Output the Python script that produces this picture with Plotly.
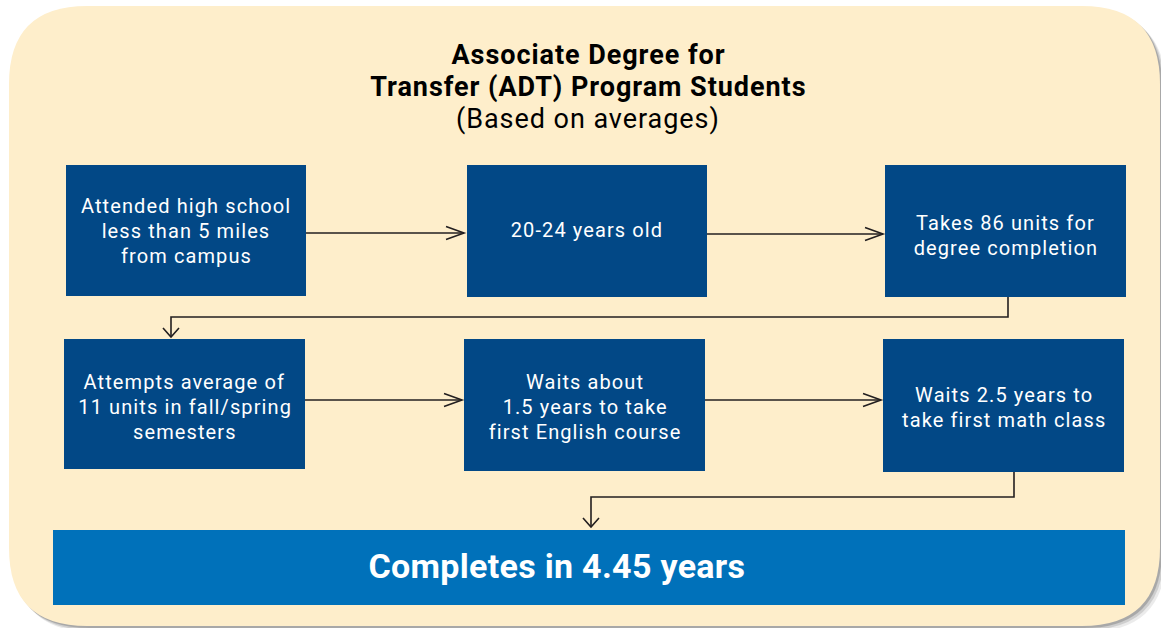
import plotly.graph_objects as go

# ---- content ----
title_lines = ["Associate Degree for", "Transfer (ADT) Program Students"]
subtitle = "(Based on averages)"
row1_labels = [
    ["Attended high school", "less than 5 miles", "from campus"],
    ["20-24 years old"],
    ["Takes 86 units for", "degree completion"],
]
row2_labels = [
    ["Attempts average of", "11 units in fall/spring", "semesters"],
    ["Waits about", "1.5 years to take", "first English course"],
    ["Waits 2.5 years to", "take first math class"],
]
result_label = "Completes in 4.45 years"

# ---- layout geometry (pixels, y downward) ----
W, H = 1161, 628
row1_boxes = [(66, 165, 306, 296), (467, 165, 707, 297), (885, 165, 1126, 297)]
row2_boxes = [(64, 339, 305, 469), (464, 339, 705, 471), (883, 339, 1124, 472)]
row1_text_dy = [0, -1, 4]
row2_text_dy = [3, 2, 2]
result_box = (53, 530, 1125, 605)
result_text_pos = (557, 565.5)

DARK = "#024886"
BRIGHT = "#0071BA"
CREAM = "#FEEECB"
LINE = "#231F20"
FONT = "Roboto"

fig = go.Figure()
shapes = []
annotations = []


def rounded_rect(x0, y0, x1, y1, r):
    return (f"M{x0+r},{y0} L{x1-r},{y0} Q{x1},{y0} {x1},{y0+r} "
            f"L{x1},{y1-r} Q{x1},{y1} {x1-r},{y1} L{x0+r},{y1} "
            f"Q{x0},{y1} {x0},{y1-r} L{x0},{y0+r} Q{x0},{y0} {x0+r},{y0} Z")


# shadow + background panel
for off, alpha in [(6, 0.08), (4, 0.12), (2, 0.18)]:
    shapes.append(dict(type="path", xref="x", yref="y",
                       path=rounded_rect(9 + off, 6 + off, 1160 + off, 626 + off, 78),
                       fillcolor=f"rgba(0,0,0,{alpha})", line=dict(width=0), layer="below"))
shapes.append(dict(type="path", xref="x", yref="y",
                   path=rounded_rect(9, 6, 1160, 626, 78),
                   fillcolor=CREAM, line=dict(width=0), layer="below"))


def box(b, color):
    shapes.append(dict(type="rect", xref="x", yref="y", x0=b[0], y0=b[1], x1=b[2], y1=b[3],
                       fillcolor=color, line=dict(width=0)))


def text_at(x, y, text, size, color, bold=False):
    annotations.append(dict(x=x, y=y, xref="x", yref="y",
                            text=(f"<b>{text}</b>" if bold else text), showarrow=False,
                            font=dict(family=FONT, size=size, color=color),
                            xanchor="center", yanchor="middle", align="center"))


def label(b, lines, dy=0, size=20, spacing=25):
    cx = (b[0] + b[2]) / 2
    cy = (b[1] + b[3]) / 2 + dy
    n = len(lines)
    for i, ln in enumerate(lines):
        text_at(cx, cy + (i - (n - 1) / 2) * spacing, ln, size, "white")


def line(pts):
    path = "M" + " L".join(f"{x},{y}" for x, y in pts)
    shapes.append(dict(type="path", xref="x", yref="y", path=path,
                       line=dict(color=LINE, width=1.6)))


def head_right(x, y):
    line([(x - 18, y - 6.5), (x, y), (x - 18, y + 6.5)])


def head_down(x, y):
    line([(x - 8, y - 9), (x, y), (x + 8, y - 9)])


for b, t, d in zip(row1_boxes, row1_labels, row1_text_dy):
    box(b, DARK)
    label(b, t, d)
for b, t, d in zip(row2_boxes, row2_labels, row2_text_dy):
    box(b, DARK)
    label(b, t, d)
box(result_box, BRIGHT)
text_at(result_text_pos[0], result_text_pos[1], result_label, 34, "white", bold=True)

# row 1 arrows
line([(306, 233), (464, 233)]); head_right(464, 233)
line([(707, 234), (883, 234)]); head_right(883, 234)
# connector row1 -> row2
line([(1008, 297), (1008, 317), (171, 317), (171, 337)]); head_down(171, 337)
# row 2 arrows
line([(305, 400), (462, 400)]); head_right(462, 400)
line([(705, 400), (881, 400)]); head_right(881, 400)
# connector row2 -> result
line([(1014, 472), (1014, 497), (591, 497), (591, 527)]); head_down(591, 527)

# title
text_at(588, 55, title_lines[0], 27, "black", bold=True)
text_at(588, 87, title_lines[1], 27, "black", bold=True)
text_at(588, 119, subtitle, 27, "black")

fig.update_layout(
    width=W, height=H, margin=dict(l=0, r=0, t=0, b=0),
    paper_bgcolor="white", plot_bgcolor="white",
    xaxis=dict(range=[0, W], visible=False, fixedrange=True),
    yaxis=dict(range=[H, 0], visible=False, fixedrange=True),
    shapes=shapes, annotations=annotations, showlegend=False,
)

post = """
document.body.style.margin='0';
document.body.style.padding='0';
document.querySelectorAll('text.annotation-text').forEach(function(t){
  var fs = parseFloat(t.style.fontSize);
  var ls = fs < 24 ? 1.1 : (fs < 30 ? 0.95 : 0.3);
  t.style.letterSpacing = ls + 'px';
});
"""
fig.write_html("out.html", post_script=post, config={"displayModeBar": False})
